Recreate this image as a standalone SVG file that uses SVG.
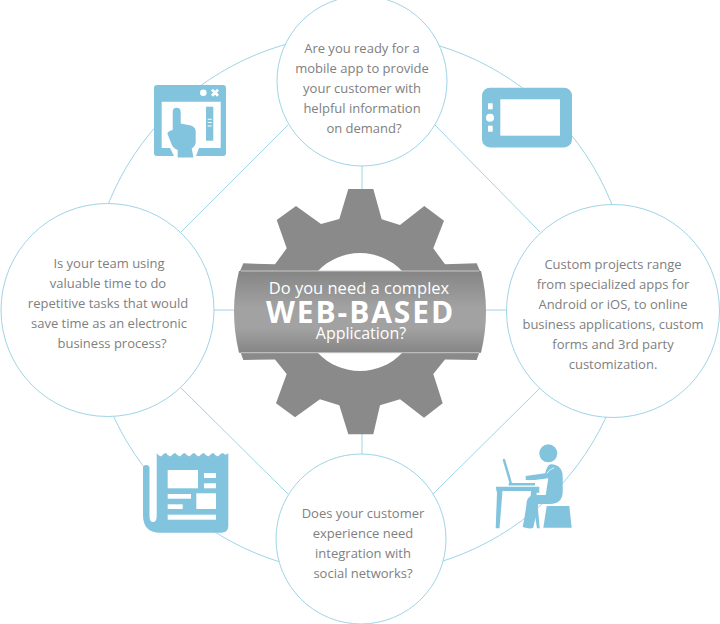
<svg xmlns="http://www.w3.org/2000/svg" width="720" height="624" viewBox="0 0 720 624">
<defs>
<linearGradient id="band" x1="0" y1="0" x2="0" y2="1">
<stop offset="0" stop-color="#858585"/><stop offset="0.45" stop-color="#a2a2a2"/><stop offset="0.7" stop-color="#a2a2a2"/><stop offset="1" stop-color="#858585"/>
</linearGradient>
</defs>
<style>
.ln{fill:none;stroke:#9fd4e6;stroke-width:1}
.c{fill:#fff;stroke:#9fd4e6;stroke-width:1}
.t{font-family:"Open Sans",sans-serif;font-size:13px;fill:#808080;text-anchor:middle}
.g{font-family:"Open Sans",sans-serif;fill:#fff;text-anchor:middle}
.i{fill:#82c4de}
.w{fill:#fff}
</style>
<rect width="720" height="624" fill="#fff"/>
<g id="connectors">
<ellipse class="ln" cx="360" cy="304" rx="271" ry="270"/>
<path class="ln" d="M181,232L288,125M435,125L540,232M181,388L288,494M540,388L432,495M362,166V190M362,434V454M214,310H235M486,310H506"/>
</g>
<g id="icon-touch">
<rect class="i" x="154" y="85" width="72" height="71" rx="3"/>
<path class="w" d="M161.700,101.700H220.700V148H199L196,156H174L170,148H161.700Z"/>
<path class="i" d="M172.700,112Q172.700,107.700 176.500,107.700Q180.700,107.700 180.700,112V123.500L191,125.500Q195.500,127 195.700,131V142Q195.500,146 191.700,148.500L193.500,157.500H177.700V150Q173,148 171.500,144L167.500,134Q167,131.500 172.700,130Z"/>
<rect class="i" x="206" y="106.700" width="7.300" height="34"/>
<path class="w" d="M207.700,118.800h4v1h-4zM207.700,122h4v1h-4zM207.700,125.500h4v1h-4z"/>
<circle class="w" cx="203.300" cy="92.700" r="3.300"/>
<path d="M212,89.700L218,95.700M218,89.700L212,95.700" stroke="#fff" stroke-width="2.800" fill="none"/>
</g>
<g id="icon-tablet">
<rect class="i" x="482" y="87.700" width="90" height="59.700" rx="8"/>
<rect class="w" x="500.300" y="99.300" width="59.700" height="36.400"/>
<rect class="w" x="488" y="103.300" width="4.700" height="6"/>
<circle class="w" cx="490" cy="117.700" r="4"/>
<rect class="w" x="488" y="125.700" width="4.700" height="6"/>
</g>
<g id="icon-news">
<rect class="w" x="149" y="470" width="9" height="50"/>
<path class="i" d="M156.700,453Q159,457 161.500,456Q164,453 166,453Q168.500,457 171,456Q173.500,453 175.500,453Q178,457 180.500,456Q183,453 185,453Q187.500,457 190,456Q192.500,453 194.500,453Q197,457 199.500,456Q202,453 204,453Q206.500,457 209,456Q211.500,453 213.500,453Q216,457 218.500,456Q221,453 223,453Q225.500,456 228.300,453V526Q228.300,532.700 221,532.700H160Q143,532.700 143,515V468Q143,465 146,465Q149.500,465 149.500,468V516Q149.500,522 153,522Q156.700,522 156.700,516Z"/>
<g class="w"><rect x="167.700" y="470" width="30.300" height="18.300"/><rect x="204" y="473" width="12" height="5"/><rect x="204" y="483.300" width="12" height="5"/><rect x="196.300" y="493.300" width="19.700" height="15.700"/><rect x="167.700" y="494" width="23.300" height="4.700"/><rect x="167.700" y="504.300" width="15" height="4.700"/><rect x="167.700" y="514.700" width="48.300" height="5"/></g>
</g>
<g id="icon-person">
<circle class="i" cx="548.300" cy="453.300" r="9"/>
<path class="i" d="M551,464.300Q562.700,465 562.700,477V493Q561.500,504 550,504H538.300L533.300,527.700Q530,529.500 522.700,527Q526,510 526.700,501.700Q528.300,495 535,495H545.700L548.300,478.300L535,480H525.700V476L545,473.300Q547.500,464.300 551,464.300Z"/>
<path d="M546.700,473.300Q550,469 554,467.700" stroke="#fff" stroke-width="0.800" fill="none"/>
<path d="M504,460L510.700,483" stroke="#82c4de" stroke-width="2.500" stroke-linecap="round" fill="none"/>
<rect class="i" x="508.700" y="483" width="26.300" height="2.500"/>
<path class="i" d="M496,486.700H539.300V492.700H536.500L539.700,528.300H537L533,504H530L531,491H502.500L499.500,528.300H495.700L497,492.700Q496,491 496,486.700Z"/>
<path class="i" d="M546.700,506H569.300L571.700,527.700H543.300Z"/>
</g>
<g id="gear">
<path fill="#8a8a8a" d="M348.300,189H373.300L381.700,219.300L400,225L424.300,206L444,220.700L433.300,248.300L445,264.300L476.700,263.300L482,276V345L476.700,360L445,359.500L433.300,374L442.700,403.300L424,417.700L400,399.300L380,405.300L373.300,434.300H348.300L339.300,405.300L320,399.300L295,417.300L276,403.300L286.700,374L275,359.500L243.300,360L238,345V276L243.300,263.300L275,264.300L286.700,248.300L276.700,220L296,206L321,224L339.300,219Z"/>
<path fill="#fff" d="M318,271A58,58 0 0 1 402,271ZM318,353A58,58 0 0 0 402,353Z"/>
<path fill="url(#band)" d="M239,271H481Q491,311 481,352.700H239Q229,311 239,271Z"/>
<path d="M241,271H479M241,352.700H479" stroke="#c8c8c8" stroke-width="1"/>
<text class="g" x="359" y="294" font-size="16.500">Do you need a complex</text>
<text class="g" x="360.500" y="322.700" font-size="30" font-weight="700" letter-spacing="1.900">WEB-BASED</text>
<text class="g" x="361" y="339" font-size="16">Application?</text>
</g>
<g id="node-top">
<circle class="c" cx="362" cy="81" r="85"/>
<text class="t"><tspan x="362" y="53">Are you ready for a</tspan><tspan x="362" y="73">mobile app to provide</tspan><tspan x="362" y="93">your customer with</tspan><tspan x="362" y="113">helpful information</tspan><tspan x="364" y="133">on demand?</tspan></text>
</g>
<g id="node-left">
<circle class="c" cx="107.500" cy="310" r="106.500"/>
<text class="t"><tspan x="109" y="268">Is your team using</tspan><tspan x="108" y="288">valuable time to do</tspan><tspan x="108" y="308">repetitive tasks that would</tspan><tspan x="109" y="328">save time as an electronic</tspan><tspan x="112" y="348">business process?</tspan></text>
</g>
<g id="node-right">
<circle class="c" cx="613" cy="311" r="106.500"/>
<text class="t"><tspan x="613" y="269">Custom projects range</tspan><tspan x="613" y="289">from specialized apps for</tspan><tspan x="613" y="309">Android or iOS, to online</tspan><tspan x="613" y="329">business applications, custom</tspan><tspan x="613" y="349">forms and 3rd party</tspan><tspan x="613" y="369">customization.</tspan></text>
</g>
<g id="node-bottom">
<circle class="c" cx="361" cy="539" r="85"/>
<text class="t"><tspan x="363" y="518">Does your customer</tspan><tspan x="363" y="538">experience need</tspan><tspan x="363" y="558">integration with</tspan><tspan x="363" y="578">social networks?</tspan></text>
</g>
</svg>
